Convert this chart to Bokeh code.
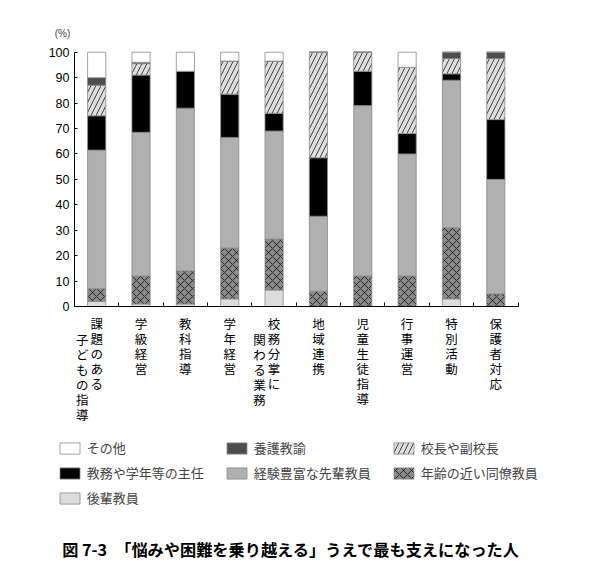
from bokeh.plotting import figure
from bokeh.models import (ColumnDataSource, Range1d, FixedTicker, Label,
                          Legend, LegendItem)
from bokeh.core.properties import value
from bokeh.embed import file_html
from bokeh.resources import INLINE

# ---------------- data ----------------
cat_right = ["課題のある", "学級経営", "教科指導", "学年経営", "校務分掌に",
             "地域連携", "児童生徒指導", "行事運営", "特別活動", "保護者対応"]
cat_left = ["子どもの指導", "", "", "", "関わる業務", "", "", "", "", ""]

# stacked bottom -> top
kohai = [2, 1, 1, 3, 6.5, 0, 0, 0, 3, 0]            # 後輩教員
nenrei = [5, 11, 13, 20, 20, 6, 12, 12, 28, 5]        # 年齢の近い同僚教員
keiken = [54.5, 56.5, 64, 43.5, 42.5, 29.5, 67, 48, 58, 45]  # 経験豊富な先輩教員
shunin = [13.5, 22.5, 14.5, 17, 7, 23, 13.5, 8, 2.5, 23.5]   # 教務や学年等の主任
kocho = [12, 4.5, 0, 13, 20.5, 41.5, 7.5, 26, 6, 24]         # 校長や副校長
yogo = [3, 0.5, 0, 0, 0, 0, 0, 0, 2.5, 2.5]                  # 養護教諭
sonota = [10, 4, 7.5, 3.5, 3.5, 0, 0, 6, 0, 0]               # その他

series_keys = ["kohai", "nenrei", "keiken", "shunin", "kocho", "yogo", "sonota"]
series_names = ["後輩教員", "年齢の近い同僚教員", "経験豊富な先輩教員", "教務や学年等の主任",
                "校長や副校長", "養護教諭", "その他"]
series_colors = ["#dcdcdc", "#8a8a8a", "#b0b0b0", "#000000", "#dedede", "#4d4d4d", "#ffffff"]
series_hatch = [" ", "x", " ", " ", "/", " ", " "]
legend_order = ["その他", "養護教諭", "校長や副校長", "教務や学年等の主任",
                "経験豊富な先輩教員", "年齢の近い同僚教員", "後輩教員"]
y_ticks = [0, 10, 20, 30, 40, 50, 60, 70, 80, 90, 100]
title_text = "図 7-3\u3000「悩みや困難を乗り越える」うえで最も支えになった人"

JP = "Noto Sans CJK JP"

# ---------------- layout constants ----------------
W, H = 592, 569
BL, BR, BT, BB = 40, 40, 10, 10
FW, FH = W - BL - BR, H - BT - BB
X0_PX, CAT_PX = 74.0, 44.35        # where x=0 sits, pixels per category
Y100_PX, Y0_PX = 51.7, 306.0        # where y=100 and y=0 sit
ppu = (Y0_PX - Y100_PX) / 100.0
x_start = -(X0_PX - BL) / CAT_PX
x_end = x_start + FW / CAT_PX
y_end = 100 + (Y100_PX - BT) / ppu
y_start = y_end - FH / ppu

n = len(cat_right)
xpos = [i + 0.5 for i in range(n)]
src = ColumnDataSource(dict(x=xpos, kohai=kohai, nenrei=nenrei, keiken=keiken,
                            shunin=shunin, kocho=kocho, yogo=yogo, sonota=sonota))

p = figure(width=W, height=H, frame_width=FW, frame_height=FH,
           output_backend="svg", toolbar_location=None,
           x_range=Range1d(x_start, x_end), y_range=Range1d(y_start, y_end),
           min_border_left=BL, min_border_right=BR, min_border_top=BT,
           min_border_bottom=BB)
p.outline_line_color = None
p.grid.visible = False
p.background_fill_color = "white"

renderers = p.vbar_stack(series_keys, x="x", width=0.41, source=src,
                         fill_color=series_colors, line_color="#8a8a8a", line_width=0.8,
                         hatch_pattern=series_hatch, hatch_color="black",
                         hatch_scale=[9, 8, 9, 9, 10, 9, 9], hatch_weight=0.7)

# axes
p.yaxis.fixed_location = 0
p.yaxis.ticker = FixedTicker(ticks=y_ticks)
p.yaxis.bounds = (0, 100)
p.yaxis.major_tick_in = 3
p.yaxis.major_tick_out = 0
p.yaxis.minor_tick_line_color = None
p.yaxis.major_label_text_font = "Liberation Sans"
p.yaxis.major_label_text_font_size = "12.5px"
p.yaxis.major_label_text_color = "black"
p.yaxis.major_label_standoff = 5
p.yaxis.axis_line_color = "black"

xt = list(range(1, n + 1))
p.xaxis.fixed_location = 0
p.xaxis.ticker = FixedTicker(ticks=xt)
p.xaxis.bounds = (0, n)
p.xaxis.major_tick_in = 4
p.xaxis.major_tick_out = 0
p.xaxis.minor_tick_line_color = None
p.xaxis.major_label_overrides = {t: "" for t in xt}
p.xaxis.major_label_standoff = 0
p.xaxis.axis_line_color = "black"

# category labels (vertical Japanese text)
LABEL_TOP = -(313.5 - Y0_PX) / ppu
lx, lt, lxo, lyo = [], [], [], []
for i in range(n):
    lx.append(xpos[i]); lt.append("\n".join(cat_right[i])); lxo.append(0); lyo.append(0)
    if cat_left[i]:
        lx.append(xpos[i]); lt.append("\n".join(cat_left[i])); lxo.append(-14.5); lyo.append(16)
lsrc = ColumnDataSource(dict(x=lx, y=[LABEL_TOP] * len(lx), text=lt, xo=lxo, yo=lyo))
p.text(x="x", y="y", text="text", source=lsrc, x_offset="xo", y_offset="yo",
       text_align="center", text_baseline="top", text_font=value(JP),
       text_font_size="12.5px", text_line_height=0.79, text_color="black")

# (%) label
p.add_layout(Label(x=62 - BL, y=(H - BB) - 33, x_units="screen", y_units="screen",
                   text="(%)", text_font="Liberation Sans", text_font_size="10px",
                   text_align="center", text_baseline="middle"))

# legend
name_to_r = dict(zip(series_names, renderers))
items = [LegendItem(label=nm, renderers=[name_to_r[nm]]) for nm in legend_order]
legend = Legend(items=items, location=(56.7 - BL, (H - BB) - 507),
                orientation="horizontal", ncols=3,
                glyph_width=25, glyph_height=14, label_standoff=5, spacing=6,
                padding=0, margin=0, border_line_color=None, background_fill_alpha=0,
                label_text_font=JP, label_text_font_size="13px", label_width=131,
                label_height=16)
p.add_layout(legend)

# caption
p.add_layout(Label(x=61.7 - BL, y=(H - BB) - 548, x_units="screen", y_units="screen",
                   text=title_text, text_font=JP, text_font_size="16.2px",
                   text_font_style="bold", text_align="left", text_baseline="middle",
                   text_color="black"))

open("out.html", "w").write(file_html(p, INLINE))
